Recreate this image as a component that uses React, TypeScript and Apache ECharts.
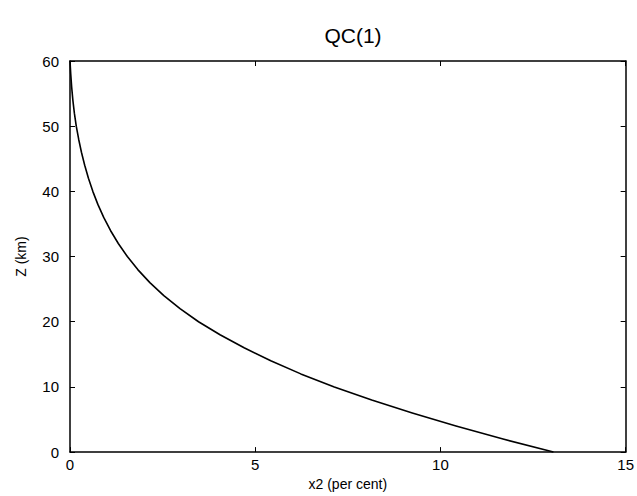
import React, { useEffect, useRef } from "react";
import * as echarts from "echarts";

const TITLE = "QC(1)";
const X_NAME = "x2 (per cent)";
const Y_NAME = "Z (km)";

const altitudeKm = [0, 2, 4, 6, 8, 10, 12, 14, 16, 18, 20, 22, 24, 26, 28, 30, 32, 34, 36, 38, 40, 42, 44, 46, 48, 50, 52, 54, 56, 58, 60];
const x2PerCent = [13.05, 11.69, 10.42, 9.24, 8.145, 7.135, 6.23, 5.42, 4.7, 4.05, 3.47, 2.97, 2.533, 2.156, 1.83, 1.548, 1.304, 1.093, 0.91, 0.752, 0.616, 0.498, 0.397, 0.309, 0.234, 0.169, 0.118, 0.077, 0.045, 0.02, 0];

const X_MIN = 0, X_MAX = 15, X_STEP = 5;
const Y_MIN = 0, Y_MAX = 60, Y_STEP = 10;

export default function App() {
  const ref = useRef<HTMLDivElement>(null);
  useEffect(() => {
    if (!ref.current) return;
    const chart = echarts.init(ref.current, undefined, { renderer: "svg" });
    const font = "'Liberation Sans', Arial, sans-serif";
    const lineStyle = { color: "#000", width: 1.5 };
    const tick = { show: true, inside: true, length: 5, lineStyle: { color: "#000", width: 1 } };
    const baseX = {
      type: "value" as const,
      min: X_MIN,
      max: X_MAX,
      interval: X_STEP,
      splitLine: { show: false },
      axisLine: { show: true, onZero: false, lineStyle },
      axisTick: tick,
    };
    const baseY = {
      type: "value" as const,
      min: Y_MIN,
      max: Y_MAX,
      interval: Y_STEP,
      splitLine: { show: false },
      axisLine: { show: true, onZero: false, lineStyle },
      axisTick: tick,
    };
    chart.setOption({
      animation: false,
      backgroundColor: "#fff",
      title: {
        text: TITLE,
        left: 348,
        textAlign: "center",
        top: 20,
        textStyle: { fontFamily: font, fontSize: 21, fontWeight: "normal", color: "#000" },
      },
      grid: { left: 70, right: 10, top: 61, bottom: 35 },
      xAxis: [
        {
          ...baseX,
          position: "bottom",
          name: X_NAME,
          nameLocation: "middle",
          nameGap: 21,
          nameTextStyle: { fontFamily: font, fontSize: 14, color: "#000" },
          axisLabel: { show: true, margin: 5, fontFamily: font, fontSize: 15, color: "#000" },
        },
        { ...baseX, position: "top", axisLabel: { show: false } },
      ],
      yAxis: [
        {
          ...baseY,
          position: "left",
          name: Y_NAME,
          nameLocation: "middle",
          nameGap: 42,
          nameRotate: 90,
          nameTextStyle: { fontFamily: font, fontSize: 14, color: "#000" },
          axisLabel: { show: true, margin: 11, fontFamily: font, fontSize: 15, color: "#000" },
        },
        { ...baseY, position: "right", axisLabel: { show: false } },
      ],
      series: [
        {
          type: "line",
          xAxisIndex: 0,
          yAxisIndex: 0,
          data: altitudeKm.map((z, i) => [x2PerCent[i], z]),
          showSymbol: false,
          symbol: "none",
          smooth: false,
          lineStyle: { color: "#000", width: 1.6, join: "round" },
        },
      ],
    });
    return () => chart.dispose();
  }, []);
  return (
    <div
      ref={ref}
      style={{ position: "absolute", left: 0, top: 0, width: 637, height: 496 }}
    />
  );
}
